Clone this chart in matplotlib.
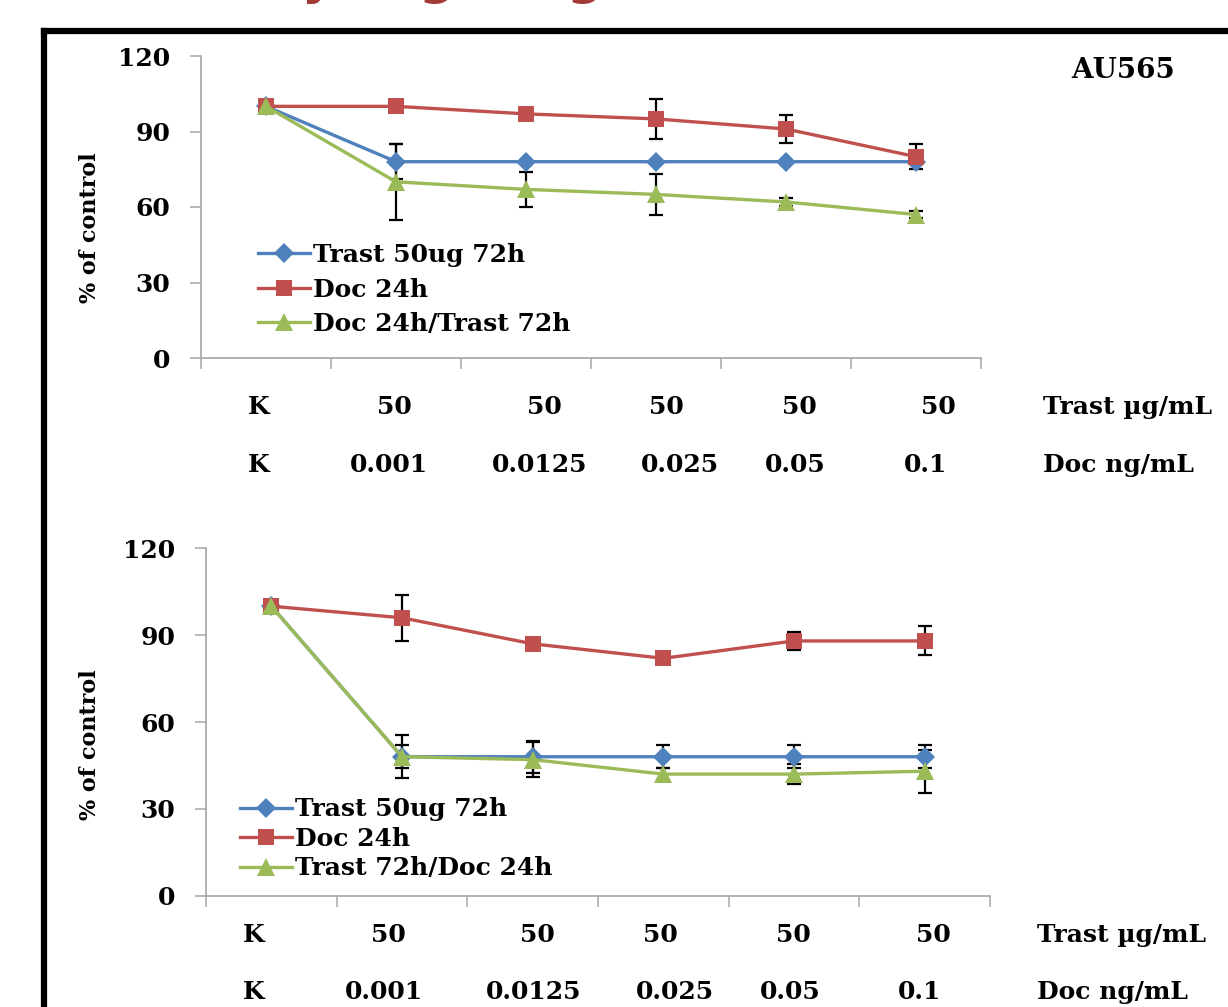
import numpy as np
import matplotlib
matplotlib.use("Agg")
import matplotlib.pyplot as plt
from matplotlib.lines import Line2D

# ---- data ----
categories = ["K", "1", "2", "3", "4", "5"]

trast_top = [100, 78, 78, 78, 78, 78]
trast_top_err = [0, 7, 0, 0, 0, 0]
doc_top = [100, 100, 97, 95, 91, 80]
doc_top_err = [0, 0, 0, 8, 5.5, 5]
combo_top = [100, 70, 67, 65, 62, 57]
combo_top_err = [0, 15, 7, 8, 1.5, 1.5]

trast_bot = [100, 48, 48, 48, 48, 48]
trast_bot_err = [0, 7.5, 5.5, 4, 4, 4]
doc_bot = [100, 96, 87, 82, 88, 88]
doc_bot_err = [0, 8, 0, 0, 3, 5]
combo_bot = [100, 48, 47, 42, 42, 43]
combo_bot_err = [0, 4, 6, 2, 3.5, 7.5]

labels_top = ["Trast 50ug 72h", "Doc 24h", "Doc 24h/Trast 72h"]
labels_bot = ["Trast 50ug 72h", "Doc 24h", "Trast 72h/Doc 24h"]

trast_row = ["K", "50", "50", "50", "50", "50"]
doc_row = ["K", "0.001", "0.0125", "0.025", "0.05", "0.1"]
yticks = [0, 30, 60, 90, 120]

# ---- style ----
W, H = 1228, 1007
BLUE, RED, GREEN = "#4F81BD", "#C0504D", "#9BBB59"
AXGRAY = "#A6A6A6"
FONT = dict(family="DejaVu Serif", weight="bold")


def px(x, y):
    return x / W, 1 - y / H


fig = plt.figure(figsize=(W / 100, H / 100), dpi=100)
fig.patch.set_facecolor("white")


def draw_panel(rect, series, errs, labels, leg_anchor, leg_spacing):
    ax = fig.add_axes(rect)
    x = np.arange(len(categories)) + 0.5
    styles = [(BLUE, "D", 10), (RED, "s", 11.5), (GREEN, "^", 12.5)]
    handles = []
    for (col, mk, ms), y, e, lab in zip(styles, series, errs, labels):
        e = np.array(e, dtype=float)
        m = e > 0
        ax.errorbar(x[m], np.array(y)[m], yerr=e[m], fmt="none", ecolor="black",
                    elinewidth=1.6, capsize=5, capthick=1.6, zorder=2)
        h, = ax.plot(x, y, color=col, lw=2.4, marker=mk, markersize=ms,
                     markeredgewidth=0, zorder=3, label=lab)
        handles.append(h)
    ax.set_xlim(0, len(categories))
    ax.set_ylim(0, 120)
    ax.set_yticks(yticks)
    ax.set_xticks(np.arange(len(categories) + 1))
    ax.set_xticklabels([])
    for s in ["top", "right"]:
        ax.spines[s].set_visible(False)
    for s in ["left", "bottom"]:
        ax.spines[s].set_color(AXGRAY)
        ax.spines[s].set_linewidth(1.2)
    ax.tick_params(axis="both", direction="out", length=8, width=1.1, color=AXGRAY)
    ax.tick_params(axis="y", pad=14)
    for t in ax.get_yticklabels():
        t.set_fontfamily("DejaVu Serif")
        t.set_fontweight("bold")
        t.set_fontsize(18)
    ax.legend(handles=handles, loc="upper left", bbox_to_anchor=leg_anchor,
              frameon=False, prop=dict(family="DejaVu Serif", weight="bold", size=18),
              handlelength=2.1, handletextpad=0.1, labelspacing=leg_spacing,
              borderpad=0, borderaxespad=0)
    return ax


ax1 = draw_panel([201 / W, 1 - 358 / H, 780 / W, 302 / H],
                 [trast_top, doc_top, combo_top],
                 [trast_top_err, doc_top_err, combo_top_err],
                 labels_top, (0.073, 0.38), 0.42)
ax2 = draw_panel([206 / W, 1 - 895.7 / H, 784 / W, 347.4 / H],
                 [trast_bot, doc_bot, combo_bot],
                 [trast_bot_err, doc_bot_err, combo_bot_err],
                 labels_bot, (0.043, 0.283), 0.22)

# y labels
fig.text(*px(90, 228), "% of control", rotation=90, ha="center", va="center",
         fontsize=16, **FONT)
fig.text(*px(90, 745), "% of control", rotation=90, ha="center", va="center",
         fontsize=16, **FONT)

# cell line label
fig.text(*px(1123, 70), "AU565", ha="center", va="center", fontsize=20, **FONT)

# concentration rows under each panel
rows = [
    (trast_row, [259, 394, 544, 666, 799, 938], 407, "Trast µg/mL", 1043),
    (doc_row, [259, 389, 540, 680, 795, 926], 465, "Doc ng/mL", 1043),
    (trast_row, [254, 388, 537, 660, 793, 933], 935, "Trast µg/mL", 1037),
    (doc_row, [254, 384, 534, 675, 790, 920], 992, "Doc ng/mL", 1037),
]
for vals, xs, yy, unit, ux in rows:
    for v, xx in zip(vals, xs):
        fig.text(*px(xx, yy), v, ha="center", va="center", fontsize=18, **FONT)
    fig.text(*px(ux, yy), unit, ha="left", va="center", fontsize=18, **FONT)

# slide frame
fig.add_artist(Line2D([44 / W, 44 / W], [1 - 31 / H, -0.05], color="black", lw=4.5,
                      solid_capstyle="projecting"))
fig.add_artist(Line2D([44 / W, 1.05], [1 - 31 / H, 1 - 31 / H], color="black", lw=4.5,
                      solid_capstyle="projecting"))

# descenders of the slide title cut off at the top edge
for ch, xx in zip(["y", "g", "g"], [318, 437, 585]):
    fig.text(*px(xx, -6), ch, ha="center", va="baseline", fontsize=36,
             color="#A33A35", family="DejaVu Sans", weight="bold")

fig.savefig("out.png", dpi=100)
